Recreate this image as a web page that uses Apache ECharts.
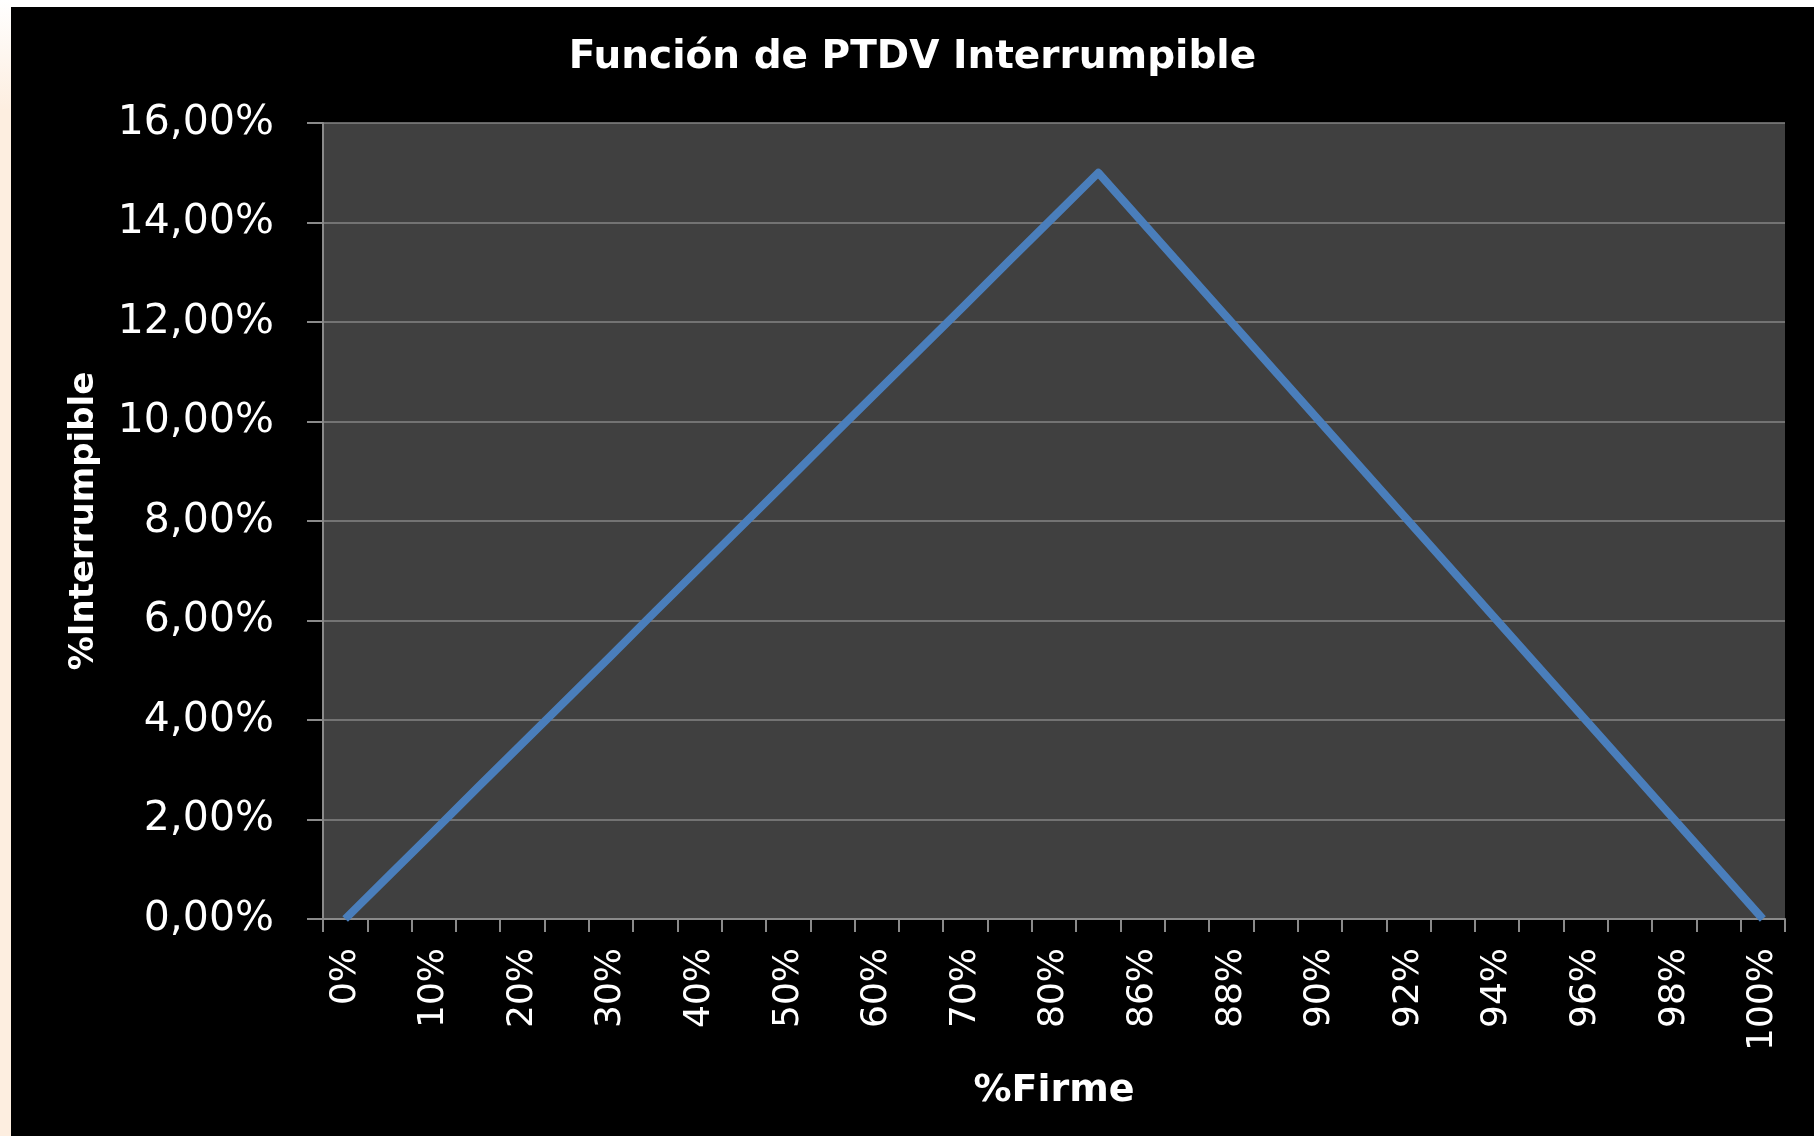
<!DOCTYPE html>
<html>
<head>
<meta charset="utf-8">
<script src="https://cdn.jsdelivr.net/npm/echarts@6/dist/echarts.min.js"></script>
<style>
  html, body { margin: 0; padding: 0; width: 1814px; height: 1136px; overflow: hidden; background: #ffffff; }
  #strip { position: absolute; left: 0; top: 0; width: 11px; height: 1136px;
           background: linear-gradient(to bottom, #ffffff 0px, #fdeee0 110px, #fdeee0 100%); }
  #chart { position: absolute; left: 11px; top: 7px; width: 1803px; height: 1129px; }
</style>
</head>
<body>
<div id="strip"></div>
<div id="chart"></div>
<script>
// Categories (%Firme)
const categories = ['0%','5%','10%','15%','20%','25%','30%','35%','40%','45%','50%','55%','60%','65%','70%','75%','80%','85%',
                    '86%','87%','88%','89%','90%','91%','92%','93%','94%','95%','96%','97%','98%','99%','100%'];
// Values (%Interrumpible, in percent)
const interrumpible = [0, 0.88, 1.76, 2.65, 3.53, 4.41, 5.29, 6.18, 7.06, 7.94, 8.82, 9.71, 10.59, 11.47, 12.35, 13.24, 14.12, 15.00,
                       14, 13, 12, 11, 10, 9, 8, 7, 6, 5, 4, 3, 2, 1, 0];
// Y axis range
const yMin = 0, yMax = 16, yStep = 2;

const chart = echarts.init(document.getElementById('chart'), null, { renderer: 'canvas' });
chart.setOption({
  backgroundColor: '#000000',
  animation: false,
  title: {
    text: 'Función de PTDV Interrumpible',
    left: 'center',
    top: 26,
    textStyle: { color: '#ffffff', fontFamily: 'DejaVu Sans', fontWeight: 'bold', fontSize: 39 }
  },
  grid: {
    left: 312, top: 116, width: 1462, height: 796,
    show: true, backgroundColor: '#404040', borderWidth: 0
  },
  xAxis: {
    type: 'category',
    data: categories,
    boundaryGap: true,
    name: '%Firme',
    nameLocation: 'middle',
    nameGap: 153,
    nameTextStyle: { color: '#ffffff', fontFamily: 'DejaVu Sans', fontWeight: 'bold', fontSize: 38 },
    axisLine: { show: true, lineStyle: { color: '#8a8a8a', width: 2 } },
    axisTick: { show: true, interval: 0, length: 13, lineStyle: { color: '#8a8a8a', width: 2 } },
    axisLabel: { interval: 1, rotate: 90, margin: 29, color: '#ffffff', fontFamily: 'DejaVu Sans', fontSize: 36 },
    splitLine: { show: false }
  },
  yAxis: {
    type: 'value',
    min: yMin, max: yMax, interval: yStep,
    name: '%Interrumpible',
    nameLocation: 'middle',
    nameRotate: 90,
    nameGap: 222,
    nameTextStyle: { color: '#ffffff', fontFamily: 'DejaVu Sans', fontWeight: 'bold', fontSize: 34 },
    axisLine: { show: true, lineStyle: { color: '#8a8a8a', width: 2 } },
    axisTick: { show: true, length: 16, lineStyle: { color: '#8a8a8a', width: 2 } },
    axisLabel: {
      margin: 49, color: '#ffffff', fontFamily: 'DejaVu Sans', fontSize: 41,
      formatter: v => v.toFixed(2).replace('.', ',') + '%'
    },
    splitLine: { show: true, lineStyle: { color: '#858585', width: 1.5 } }
  },
  series: [{
    type: 'line',
    data: interrumpible,
    showSymbol: false,
    symbol: 'none',
    clip: true,
    lineStyle: { color: '#4a7ebb', width: 8, join: 'round' }
  }]
});
</script>
</body>
</html>
